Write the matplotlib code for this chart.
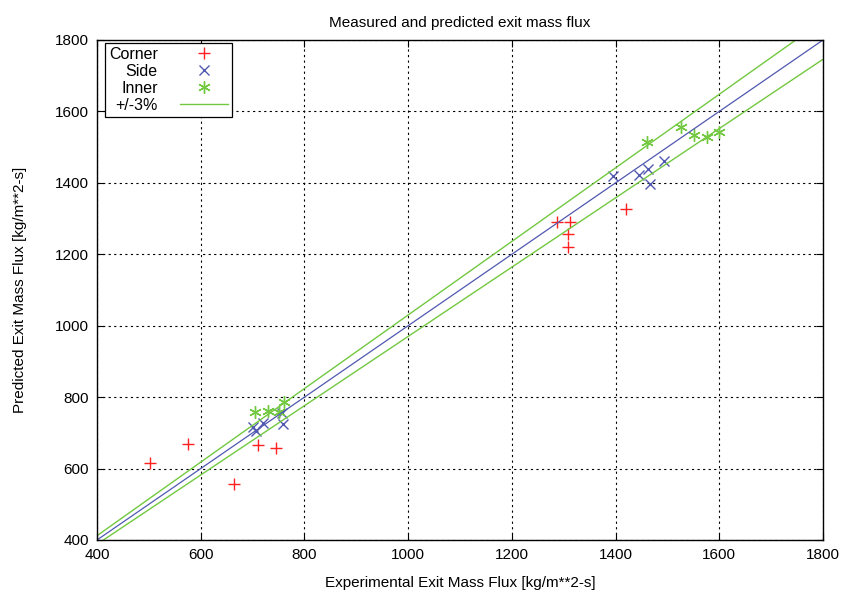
import matplotlib
matplotlib.use('Agg')
import matplotlib.pyplot as plt
import numpy as np

plt.rcParams['font.family'] = ['Liberation Sans', 'DejaVu Sans']

# measured (experimental) vs predicted exit mass flux
corner_x = [502, 575, 665, 710, 745, 1287, 1312, 1308, 1308, 1420]
corner_y = [616, 670, 557, 665, 658, 1290, 1290, 1257, 1220, 1327]
side_x = [700, 707, 720, 759, 757, 1395, 1445, 1462, 1493, 1466]
side_y = [716, 705, 728, 725, 756, 1420, 1422, 1440, 1460, 1398]
inner_x = [705, 730, 751, 761, 1460, 1526, 1551, 1576, 1599]
inner_y = [758, 761, 758, 787, 1513, 1556, 1535, 1528, 1542]
band = 0.03
line_x = np.array([400, 1800])

red = '#ff2020'
blue = '#5058b0'
green = '#72c840'

fig = plt.figure(figsize=(8.46, 5.96), dpi=100)
ax = fig.add_axes([0.1147, 0.094, 0.8581, 0.8389])

ax.plot(corner_x, corner_y, linestyle='none', marker='+', markersize=8, mew=1.0, color=red, label='Corner')
ax.plot(side_x, side_y, linestyle='none', marker='x', markersize=7, mew=1.0, color=blue, label='Side')
ax.plot(inner_x, inner_y, linestyle='none', marker=(6, 2, 0), markersize=9, mew=1.0, color=green, label='Inner')
ax.plot(line_x, line_x * (1 + band), color=green, lw=1.0, label='+/-3%')
ax.plot(line_x, line_x * (1 - band), color=green, lw=1.0)
ax.plot(line_x, line_x, color=blue, lw=0.9)

ax.set_xlim(400, 1800)
ax.set_ylim(400, 1800)
ax.set_xticks(np.arange(400, 1801, 200))
ax.set_yticks(np.arange(400, 1801, 200))
ax.grid(True, color='black', linestyle=(0, (2, 3)), linewidth=0.8)
ax.tick_params(direction='in', labelsize=11, length=5, top=True, right=True, pad=6)
for s in ax.spines.values():
    s.set_linewidth(1.0)

ax.set_title('Measured and predicted exit mass flux', fontsize=11, pad=9)
ax.set_xlabel('Experimental Exit Mass Flux [kg/m**2-s]', fontsize=11, labelpad=10)
ax.set_ylabel('Predicted Exit Mass Flux [kg/m**2-s]', fontsize=11, labelpad=20)

leg = ax.legend(loc='upper left', bbox_to_anchor=(0.011, 0.994), borderaxespad=0,
                markerfirst=False, fancybox=False, edgecolor='black', framealpha=1,
                fontsize=11.5, handlelength=3.0, borderpad=0.25, labelspacing=0.12,
                handletextpad=1.4)
leg.get_frame().set_linewidth(0.9)

fig.savefig('out.png', dpi=100)
